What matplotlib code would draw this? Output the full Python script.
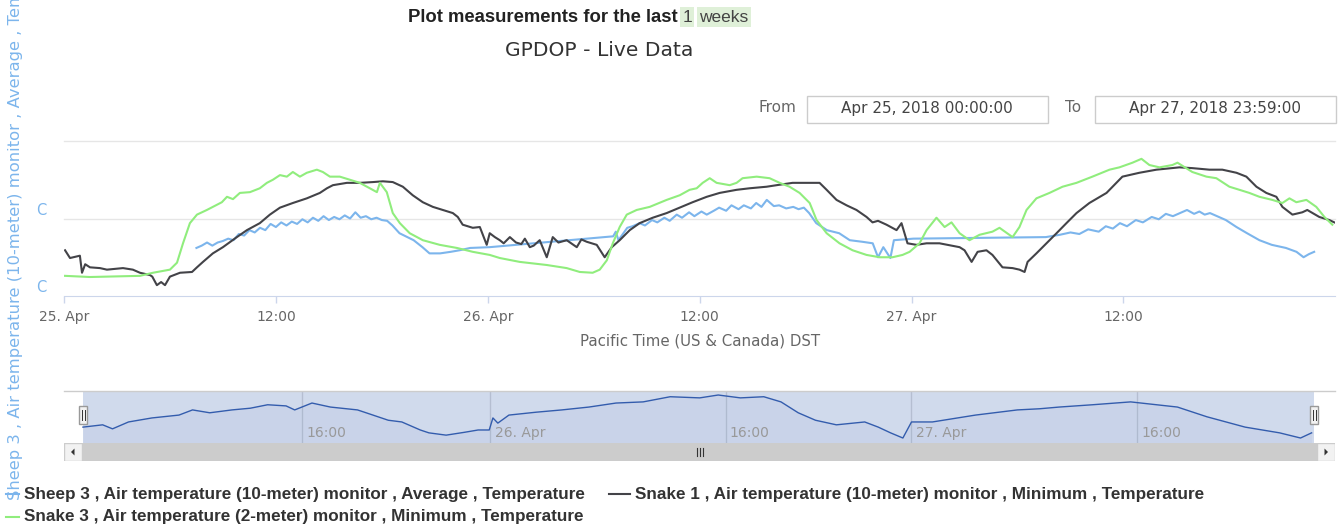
import matplotlib
matplotlib.use("Agg")
import matplotlib.pyplot as plt
from matplotlib.lines import Line2D
from matplotlib.patches import Rectangle, Polygon

W, H = 1341, 527

# hours since Apr 25 2018 00:00 (Pacific), temperature in C
sheep3_h = [7.5, 7.8, 8.1, 8.4, 8.7, 9.0, 9.3, 9.6, 9.9, 10.2, 10.5, 10.8, 11.1, 11.4,
            11.7, 12.0, 12.3, 12.6, 12.9, 13.2, 13.5, 13.8, 14.1, 14.4, 14.7, 15.0,
            15.3, 15.6, 15.9, 16.2, 16.5, 16.8, 17.1, 17.4, 17.7, 18.0, 18.3, 18.6,
            19.0, 19.8, 20.3, 20.7, 21.3, 21.9, 22.4, 23.0, 24.1,
            31.1, 31.25, 31.4, 31.9, 32.2, 32.6, 32.9, 33.3, 33.6, 34.0, 34.3, 34.7,
            35.0, 35.4, 35.7, 36.1, 36.4, 36.8, 37.1, 37.5, 37.8, 38.2, 38.5, 38.9,
            39.2, 39.5, 39.8, 40.2, 40.5, 40.9, 41.3, 41.6, 41.9, 42.2, 42.6, 43.2,
            43.9, 44.5, 45.2, 45.8, 46.1, 46.4, 46.8, 47.0, 48.1,
            55.6, 56.4, 57.0, 57.5, 58.0, 58.6, 59.0, 59.4, 59.8, 60.2, 60.7, 61.1,
            61.6, 62.0, 62.4, 62.8, 63.2, 63.6, 64.0, 64.3, 64.6, 64.9, 65.4, 65.8,
            66.4, 67.0, 67.7, 68.4, 69.2, 69.8, 70.2, 70.5, 70.8]
sheep3_t = [6.2, 6.5, 6.9, 6.5, 6.9, 7.1, 7.4, 7.2, 8.0, 7.8, 8.5, 8.2, 8.8, 8.5,
            9.3, 8.9, 9.5, 9.1, 9.6, 9.3, 9.9, 9.5, 10.1, 9.7, 10.3, 9.8,
            10.2, 9.9, 10.4, 10.0, 10.8, 10.1, 10.3, 9.9, 10.1, 9.8, 9.7, 9.1,
            8.1, 7.2, 6.3, 5.5, 5.5, 5.7, 5.9, 6.2, 6.3,
            7.7, 8.3, 7.2, 8.8, 9.0, 9.4, 9.1, 9.8, 9.5, 10.1, 9.7, 10.5,
            10.1, 10.8, 10.3, 10.9, 10.5, 11.0, 11.4, 11.0, 11.7, 11.2, 11.7, 11.3,
            12.0, 11.5, 12.4, 11.6, 11.7, 11.3, 11.5, 11.2, 11.4, 10.7, 9.4, 8.5,
            8.1, 7.2, 7.0, 6.8, 5.0, 6.3, 4.9, 7.2, 7.4,
            7.6, 7.9, 8.2, 8.0, 8.6, 8.3, 9.0, 8.7, 9.4, 9.0, 9.8, 9.5,
            10.2, 9.9, 10.6, 10.3, 10.7, 11.1, 10.6, 10.9, 10.5, 10.7, 10.2, 9.8,
            8.9, 8.1, 7.2, 6.6, 6.2, 5.7, 5.0, 5.4, 5.7]

snake1_h = [0.06, 0.34, 0.9, 1.02, 1.2, 1.47, 2.04, 2.43, 3.34, 3.9, 4.3, 4.87, 5.0,
            5.26, 5.5, 5.72, 6.0, 6.57, 7.25, 7.53, 7.87, 8.43, 9.0, 9.79, 10.36,
            11.09, 11.66, 12.23, 12.96, 13.75, 14.49, 14.89, 15.23, 16.02, 16.75,
            17.49, 18.06, 18.62, 19.19, 19.75, 20.32, 20.89, 21.45, 22.02, 22.3,
            22.58, 23.15, 23.55, 23.94, 24.11, 24.4, 24.68, 24.9, 25.25, 25.6, 25.9,
            26.1, 26.38, 26.6, 26.94, 27.34, 27.68, 28.0, 28.47, 29.04, 29.3, 29.6,
            30.17, 30.62, 31.02, 31.47, 32.04, 32.6, 33.34, 34.13, 34.87, 35.6,
            36.4, 37.13, 38.09, 38.83, 39.79, 40.36, 41.26, 42.4, 42.79, 43.19,
            43.75, 44.32, 44.88, 45.45, 45.79, 46.1, 46.58, 47.15, 47.43, 47.77,
            48.28, 48.85, 49.58, 50.72, 51.0, 51.4, 51.74, 52.24, 52.58, 53.15,
            53.72, 54.11, 54.4, 54.57, 55.07, 55.64, 56.21, 56.77, 57.34, 58.07,
            59.04, 59.6, 59.94, 60.9, 61.87, 62.77, 63.17, 63.9, 64.87, 65.6, 66.4,
            66.96, 67.53, 68.09, 68.66, 69.0, 69.57, 70.13, 70.41, 71.09, 71.66, 71.94]
snake1_t = [5.9, 4.9, 5.2, 3.0, 4.1, 3.7, 3.6, 3.4, 3.6, 3.4, 3.0, 2.7, 2.5,
            1.4, 1.8, 1.4, 2.5, 3.0, 3.1, 3.7, 4.4, 5.5, 6.3, 7.6, 8.5,
            9.4, 10.5, 11.4, 12.0, 12.6, 13.3, 13.9, 14.3, 14.6, 14.6,
            14.7, 14.8, 14.7, 14.1, 13.0, 12.1, 11.5, 11.1, 10.7, 10.2,
            9.2, 8.8, 8.9, 6.6, 8.1, 7.6, 7.2, 6.8, 7.6, 6.9, 6.7,
            7.4, 6.3, 6.5, 7.2, 5.0, 7.6, 6.9, 7.2, 6.3, 7.3, 7.0,
            6.6, 5.0, 6.3, 7.2, 8.5, 9.4, 10.1, 10.7, 11.4, 12.1,
            12.8, 13.3, 13.7, 13.9, 14.1, 14.3, 14.6, 14.6, 14.6, 13.7,
            12.4, 11.7, 11.1, 10.2, 9.5, 9.7, 9.2, 8.5, 9.4, 6.8,
            6.6, 6.8, 6.8, 6.3, 5.9, 4.4, 5.7, 5.9, 5.3, 3.7,
            3.6, 3.4, 3.1, 4.4, 5.5, 6.8, 8.1, 9.4, 10.7, 12.0,
            13.3, 14.6, 15.4, 15.9, 16.3, 16.5, 16.6, 16.5, 16.3, 16.3, 15.9,
            15.4, 14.1, 13.3, 12.8, 11.5, 10.5, 10.8, 11.1, 10.2, 9.8, 9.5]

snake3_h = [0.06, 1.47, 4.3, 5.04, 6.0, 6.4, 6.74, 7.13, 7.53, 8.09, 8.43, 8.94, 9.23,
            9.57, 9.96, 10.53, 11.09, 11.49, 11.83, 12.23, 12.62, 12.96, 13.36, 13.75,
            14.32, 14.66, 15.06, 15.62, 16.19, 16.75, 17.32, 17.72, 17.89, 18.28,
            18.62, 19.02, 19.58, 20.32, 21.28, 22.25, 23.15, 24.11, 24.68, 25.81,
            27.34, 28.47, 29.21, 29.94, 30.34, 30.74, 31.08, 31.47, 31.87, 32.43,
            33.17, 34.13, 34.87, 35.43, 35.83, 36.17, 36.57, 36.96, 37.7, 38.09,
            38.43, 39.23, 39.96, 40.53, 41.09, 41.66, 42.23, 42.62, 43.19, 43.92,
            44.66, 45.45, 46.19, 46.92, 47.49, 47.89, 48.45, 48.85, 49.41, 49.87,
            50.26, 50.72, 51.28, 51.85, 52.58, 52.98, 53.72, 54.11, 54.51, 55.07,
            55.81, 56.55, 57.34, 58.24, 59.21, 59.77, 60.51, 61.02, 61.47, 62.04,
            62.77, 63.06, 63.9, 64.7, 65.26, 66.0, 66.57, 67.13, 67.7, 68.43, 69.0,
            69.4, 69.79, 70.36, 70.92, 71.38, 71.83]
snake3_t = [2.6, 2.45, 2.6, 3.0, 3.4, 4.3, 6.8, 9.4, 10.5, 11.1, 11.5, 12.1, 12.8,
            12.5, 13.3, 13.4, 13.9, 14.6, 15.0, 15.6, 15.4, 16.0, 15.4, 15.9,
            16.3, 16.0, 15.4, 15.4, 15.0, 14.6, 13.9, 13.4, 14.6, 13.4,
            10.7, 9.4, 8.1, 7.2, 6.6, 6.2, 5.7, 5.3, 4.9, 4.4,
            4.0, 3.6, 3.1, 3.0, 3.4, 4.6, 6.8, 8.9, 10.5, 11.1,
            11.5, 12.4, 13.0, 13.7, 13.9, 14.6, 15.2, 14.6, 14.3, 14.6,
            15.2, 15.4, 15.2, 14.6, 14.1, 13.3, 12.0, 9.8, 8.1, 6.8,
            5.9, 5.3, 5.0, 5.0, 5.3, 5.7, 6.8, 8.5, 10.1, 8.9,
            9.5, 8.1, 7.2, 7.9, 8.3, 8.8, 7.6, 8.9, 11.1, 12.6,
            13.3, 14.1, 14.6, 15.4, 16.3, 16.6, 17.2, 17.7, 16.9, 16.6,
            16.9, 17.2, 16.0, 15.4, 15.2, 14.1, 13.7, 13.3, 12.8, 12.4, 12.0,
            12.6, 12.1, 12.4, 11.5, 10.2, 9.2]

# navigator: Sheep 3 on the ordinal axis (percent of navigator width)
nav_pos = [0.0, 1.6, 2.4, 3.7, 5.6, 7.8, 8.9, 10.3, 12.1, 13.6, 15.0, 16.5, 17.2,
           18.6, 20.1, 22.3, 23.0, 24.8, 25.9, 27.4, 28.1, 29.5, 31.0, 32.1, 33.0,
           33.3, 33.7, 34.6, 36.8, 38.9, 41.1, 43.3, 45.5, 47.7, 50.1, 51.6, 53.4,
           55.3, 56.7, 58.1, 59.5, 61.2, 63.5, 64.6, 65.6, 66.6, 67.3, 69.0, 72.5,
           75.9, 77.7, 79.3, 82.0, 85.1, 88.9, 91.3, 94.4, 97.2, 98.9, 99.8]
nav_val = [6.8, 7.2, 6.5, 7.7, 8.4, 8.9, 9.8, 9.3, 9.8, 10.1, 10.7, 10.5, 9.8,
           11.0, 10.3, 9.8, 9.3, 8.0, 7.7, 6.3, 5.8, 5.4, 5.9, 6.3, 6.3,
           8.4, 7.5, 8.9, 9.4, 9.8, 10.3, 11.0, 11.2, 12.1, 11.9, 12.4, 11.9,
           12.1, 11.2, 9.3, 8.0, 7.2, 7.7, 6.8, 5.8, 4.9, 7.7, 7.7, 8.9,
           9.8, 10.0, 10.3, 10.7, 11.2, 10.3, 8.6, 6.8, 5.8, 4.9, 5.8]
nav_tick_pos = [17.8, 33.1, 52.2, 67.3, 85.6]
nav_tick_labels = ["16:00", "26. Apr", "16:00", "27. Apr", "16:00"]

tick_hours = [0, 12, 24, 36, 48, 60]
tick_labels = ["25. Apr", "12:00", "26. Apr", "12:00", "27. Apr", "12:00"]

names = ["Sheep 3 , Air temperature (10-meter) monitor , Average , Temperature",
         "Snake 1 , Air temperature (10-meter) monitor , Minimum , Temperature",
         "Snake 3 , Air temperature (2-meter) monitor , Minimum , Temperature"]
colors = ["#7cb5ec", "#434348", "#90ed7d"]
range_from = "Apr 25, 2018 00:00:00"
range_to = "Apr 27, 2018 23:59:00"


def fx(x):
    return x / W


def fy(y):
    return 1 - y / H


def main():
    fig = plt.figure(figsize=(W / 100, H / 100), dpi=100)
    fig.patch.set_facecolor("white")

    # header
    fig.text(fx(678), fy(17), "Plot measurements for the last", ha="right", va="center",
             fontsize=13.3, fontweight="bold", family="Liberation Sans", color="#222222")
    fig.text(fx(687), fy(17), "1", ha="center", va="center", fontsize=12.5,
             family="Liberation Sans", color="#444444",
             bbox=dict(boxstyle="square,pad=0.12", fc="#dff0d8", ec="none"))
    fig.text(fx(724), fy(17), "weeks", ha="center", va="center", fontsize=12.5,
             family="Liberation Sans", color="#444444",
             bbox=dict(boxstyle="square,pad=0.12", fc="#dff0d8", ec="none"))
    fig.text(fx(599), fy(51), "GPDOP - Live Data", ha="center", va="center",
             fontsize=14.6, color="#333333")

    # range inputs
    fig.text(fx(777), fy(108), "From", ha="center", va="center", fontsize=11, color="#666666")
    fig.text(fx(1073), fy(108), "To", ha="center", va="center", fontsize=11, color="#666666")
    for x0, label in [(807, range_from), (1095, range_to)]:
        fig.add_artist(Rectangle((fx(x0), fy(123)), 241 / W, 27 / H, transform=fig.transFigure,
                                 facecolor="white", edgecolor="#cccccc", lw=1))
        fig.text(fx(x0 + 120), fy(108.5), label, ha="center", va="center", fontsize=11,
                 color="#444444")

    # main chart
    ax = fig.add_axes([fx(64), fy(296), 1271 / W, 155 / H])
    ax.set_xlim(0, 71.98)
    ax.set_ylim(0, 20)
    for s in ["top", "right", "left"]:
        ax.spines[s].set_visible(False)
    ax.spines["bottom"].set_color("#ccd6eb")
    for g in [10, 20]:
        ax.axhline(g, color="#e6e6e6", lw=1, zorder=0, clip_on=False)
    lines = []
    for hh, tt, c in [(sheep3_h, sheep3_t, colors[0]), (snake1_h, snake1_t, colors[1]),
                      (snake3_h, snake3_t, colors[2])]:
        ln, = ax.plot(hh, tt, color=c, lw=1.5)
        lines.append(ln)
    ax.set_xticks(tick_hours)
    ax.set_xticklabels(tick_labels)
    ax.tick_params(axis="x", length=5, width=1, color="#ccd6eb", labelcolor="#666666",
                   labelsize=10, pad=5)
    ax.set_yticks([])
    for v in [0, 10]:
        ax.annotate("C", xy=(0, v), xycoords=ax.get_yaxis_transform(),
                    xytext=(-23 * 0.72, 8 * 0.72), textcoords="offset points",
                    ha="center", va="center", color="#7cb5ec", fontsize=10.5)
    fig.text(fx(700), fy(341), "Pacific Time (US & Canada) DST", ha="center", va="center",
             fontsize=10.8, color="#666666")
    # long axis title, runs off the top edge like in the page
    fig.text(fx(16), fy(500), names[0], rotation=90, ha="center", va="bottom",
             fontsize=11.8, color="#7cb5ec")

    # navigator
    nav = fig.add_axes([fx(64), fy(443), 1271 / W, 52 / H])
    nav.set_xlim(-1.54, 101.7)
    nav.set_ylim(4.03, 13.1)
    nav.axis("off")
    for p, lab in zip(nav_tick_pos, nav_tick_labels):
        nav.axvline(p, color="#d8d8d8", lw=1, zorder=0)
        nav.text(p + 0.35, 0.19, lab, transform=nav.get_xaxis_transform(), ha="left",
                 va="center", fontsize=10, color="#999999")
    nav.fill_between(nav_pos, nav_val, 4.03, color="#335cad", alpha=0.05, lw=0)
    nav.plot(nav_pos, nav_val, color="#335cad", lw=1)
    nav.axvspan(0, 100, color=(0.4, 0.522, 0.761), alpha=0.3, lw=0)
    nav.axhline(13.1, color="#cccccc", lw=1, clip_on=False)
    for hx in [83, 1314]:
        fig.add_artist(Rectangle((fx(hx - 4), fy(424)), 8 / W, 18 / H, transform=fig.transFigure,
                                 facecolor="#f2f2f2", edgecolor="#999999", lw=1))
        for dx in [-1.5, 1.5]:
            fig.add_artist(Line2D([fx(hx + dx)] * 2, [fy(420), fy(410)],
                                  transform=fig.transFigure, color="#333333", lw=0.7))

    # scrollbar
    sb = fig.add_axes([fx(64), fy(461), 1271 / W, 18 / H])
    sb.set_xlim(0, 1271)
    sb.set_ylim(0, 18)
    sb.axis("off")
    sb.add_patch(Rectangle((18, 0), 1235, 18, facecolor="#cccccc", edgecolor="#cccccc", lw=1))
    for bx in [0, 1253]:
        sb.add_patch(Rectangle((bx, 0), 18, 18, facecolor="#f2f2f2", edgecolor="#cccccc", lw=1))
    sb.add_patch(Polygon([[7, 9], [10.5, 5.5], [10.5, 12.5]], facecolor="#333333", lw=0))
    sb.add_patch(Polygon([[1264, 9], [1260.5, 5.5], [1260.5, 12.5]], facecolor="#333333", lw=0))
    for gx in [633, 636, 639]:
        sb.plot([gx, gx], [5, 13], color="#333333", lw=0.8)

    # legend: (marker start, text start, row y) in pixels
    legend_slots = [(6, 24, 494), (609, 635, 494), (6, 24, 517)]
    for (x0, xt, y), ln, name in zip(legend_slots, lines, names):
        fig.add_artist(Line2D([fx(x0), fx(xt - 5)], [fy(y), fy(y)], transform=fig.transFigure,
                              color=ln.get_color(), lw=1.5))
        fig.text(fx(xt), fy(y), name, ha="left", va="center", fontsize=12.3,
                 fontweight="bold", family="Liberation Sans", color="#333333")

    fig.savefig("out.png", dpi=100, facecolor="white")


if __name__ == "__main__":
    main()
